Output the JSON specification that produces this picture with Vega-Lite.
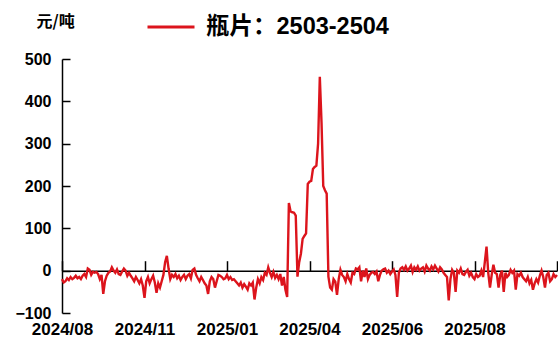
{
  "$schema": "https://vega.github.io/schema/vega-lite/v6.json",
  "autosize": "none",
  "width": 495,
  "height": 254,
  "padding": {"left": 62, "top": 59, "right": 1, "bottom": 39},
  "background": "white",
  "config": {"view": {"stroke": null}},
  "data": {"values": [
    {"i":0,"v":-20},{"i":1,"v":-28},{"i":2,"v":-25},{"i":3,"v":-18},{"i":4,"v":-22},{"i":5,"v":-15},{"i":6,"v":-20},{"i":7,"v":-17},{"i":8,"v":-12},{"i":9,"v":-18},
    {"i":10,"v":-15},{"i":11,"v":-20},{"i":12,"v":-12},{"i":13,"v":-8},{"i":14,"v":-15},{"i":15,"v":5},{"i":16,"v":2},{"i":17,"v":-10},{"i":18,"v":-3},{"i":19,"v":-5},
    {"i":20,"v":-3},{"i":21,"v":-8},{"i":22,"v":-20},{"i":23,"v":-10},{"i":24,"v":-55},{"i":25,"v":-25},{"i":26,"v":-12},{"i":27,"v":-5},{"i":28,"v":-2},{"i":29,"v":8},
    {"i":30,"v":0},{"i":31,"v":-5},{"i":32,"v":3},{"i":33,"v":-8},{"i":34,"v":-10},{"i":35,"v":-2},{"i":36,"v":5},{"i":37,"v":0},{"i":38,"v":-12},{"i":39,"v":-5},
    {"i":40,"v":-12},{"i":41,"v":-18},{"i":42,"v":-25},{"i":43,"v":-15},{"i":44,"v":-22},{"i":45,"v":-30},{"i":46,"v":-20},{"i":47,"v":-35},{"i":48,"v":-64},{"i":49,"v":-25},
    {"i":50,"v":-15},{"i":51,"v":-30},{"i":52,"v":-20},{"i":53,"v":-12},{"i":54,"v":-28},{"i":55,"v":-52},{"i":56,"v":-30},{"i":57,"v":-40},{"i":58,"v":-25},{"i":59,"v":-10},
    {"i":60,"v":20},{"i":61,"v":35},{"i":62,"v":5},{"i":63,"v":-20},{"i":64,"v":-10},{"i":65,"v":-15},{"i":66,"v":-8},{"i":67,"v":-18},{"i":68,"v":-12},{"i":69,"v":-22},
    {"i":70,"v":-15},{"i":71,"v":-10},{"i":72,"v":-20},{"i":73,"v":-12},{"i":74,"v":-8},{"i":75,"v":-18},{"i":76,"v":2},{"i":77,"v":5},{"i":78,"v":-10},{"i":79,"v":-18},
    {"i":80,"v":-25},{"i":81,"v":-15},{"i":82,"v":-22},{"i":83,"v":-30},{"i":84,"v":-35},{"i":85,"v":-55},{"i":86,"v":-25},{"i":87,"v":-15},{"i":88,"v":-20},{"i":89,"v":-40},
    {"i":90,"v":-25},{"i":91,"v":-10},{"i":92,"v":-12},{"i":93,"v":-15},{"i":94,"v":-20},{"i":95,"v":-18},{"i":96,"v":-10},{"i":97,"v":-20},{"i":98,"v":-15},{"i":99,"v":-22},
    {"i":100,"v":-20},{"i":101,"v":-25},{"i":102,"v":-30},{"i":103,"v":-35},{"i":104,"v":-28},{"i":105,"v":-40},{"i":106,"v":-32},{"i":107,"v":-38},{"i":108,"v":-45},{"i":109,"v":-30},
    {"i":110,"v":-35},{"i":111,"v":-28},{"i":112,"v":-68},{"i":113,"v":-40},{"i":114,"v":-20},{"i":115,"v":-30},{"i":116,"v":-15},{"i":117,"v":-22},{"i":118,"v":-5},{"i":119,"v":-10},
    {"i":120,"v":8},{"i":121,"v":-5},{"i":122,"v":-15},{"i":123,"v":-3},{"i":124,"v":-17},{"i":125,"v":-10},{"i":126,"v":-20},{"i":127,"v":-8},{"i":128,"v":-35},{"i":129,"v":-15},
    {"i":130,"v":-45},{"i":131,"v":-62},{"i":132,"v":160},{"i":133,"v":140},{"i":134,"v":138},{"i":135,"v":137},{"i":136,"v":130},{"i":137,"v":-14},{"i":138,"v":20},{"i":139,"v":40},
    {"i":140,"v":75},{"i":141,"v":82},{"i":142,"v":88},{"i":143,"v":205},{"i":144,"v":210},{"i":145,"v":212},{"i":146,"v":240},{"i":147,"v":245},{"i":148,"v":248},{"i":149,"v":300},
    {"i":150,"v":458},{"i":151,"v":350},{"i":152,"v":200},{"i":153,"v":190},{"i":154,"v":182},{"i":155,"v":-14},{"i":156,"v":-40},{"i":157,"v":-45},{"i":158,"v":-20},{"i":159,"v":-26},
    {"i":160,"v":-57},{"i":161,"v":-20},{"i":162,"v":2},{"i":163,"v":-10},{"i":164,"v":-15},{"i":165,"v":-25},{"i":166,"v":-8},{"i":167,"v":-20},{"i":168,"v":-28},{"i":169,"v":-5},
    {"i":170,"v":-8},{"i":171,"v":5},{"i":172,"v":3},{"i":173,"v":8},{"i":174,"v":-25},{"i":175,"v":0},{"i":176,"v":-15},{"i":177,"v":5},{"i":178,"v":-20},{"i":179,"v":-10},
    {"i":180,"v":-5},{"i":181,"v":-3},{"i":182,"v":-8},{"i":183,"v":-2},{"i":184,"v":-25},{"i":185,"v":-10},{"i":186,"v":0},{"i":187,"v":3},{"i":188,"v":5},{"i":189,"v":-5},
    {"i":190,"v":0},{"i":191,"v":-8},{"i":192,"v":-2},{"i":193,"v":3},{"i":194,"v":-10},{"i":195,"v":-62},{"i":196,"v":-5},{"i":197,"v":5},{"i":198,"v":8},{"i":199,"v":2},
    {"i":200,"v":10},{"i":201,"v":0},{"i":202,"v":5},{"i":203,"v":12},{"i":204,"v":-3},{"i":205,"v":8},{"i":206,"v":2},{"i":207,"v":10},{"i":208,"v":0},{"i":209,"v":5},
    {"i":210,"v":8},{"i":211,"v":-2},{"i":212,"v":12},{"i":213,"v":5},{"i":214,"v":0},{"i":215,"v":10},{"i":216,"v":3},{"i":217,"v":12},{"i":218,"v":5},{"i":219,"v":-2},
    {"i":220,"v":8},{"i":221,"v":3},{"i":222,"v":-5},{"i":223,"v":-10},{"i":224,"v":-15},{"i":225,"v":-70},{"i":226,"v":-20},{"i":227,"v":2},{"i":228,"v":-5},{"i":229,"v":-50},
    {"i":230,"v":0},{"i":231,"v":-5},{"i":232,"v":5},{"i":233,"v":-8},{"i":234,"v":-10},{"i":235,"v":-3},{"i":236,"v":2},{"i":237,"v":-12},{"i":238,"v":-5},{"i":239,"v":-15},
    {"i":240,"v":-20},{"i":241,"v":-8},{"i":242,"v":-15},{"i":243,"v":-12},{"i":244,"v":0},{"i":245,"v":-15},{"i":246,"v":20},{"i":247,"v":57},{"i":248,"v":-5},{"i":249,"v":-40},
    {"i":250,"v":-10},{"i":251,"v":14},{"i":252,"v":-5},{"i":253,"v":-8},{"i":254,"v":-40},{"i":255,"v":-10},{"i":256,"v":0},{"i":257,"v":-50},{"i":258,"v":-5},{"i":259,"v":-15},
    {"i":260,"v":-10},{"i":261,"v":2},{"i":262,"v":-5},{"i":263,"v":0},{"i":264,"v":-45},{"i":265,"v":-8},{"i":266,"v":-12},{"i":267,"v":-5},{"i":268,"v":-15},{"i":269,"v":-20},
    {"i":270,"v":-25},{"i":271,"v":-15},{"i":272,"v":-30},{"i":273,"v":-22},{"i":274,"v":-45},{"i":275,"v":-30},{"i":276,"v":-20},{"i":277,"v":-28},{"i":278,"v":-12},{"i":279,"v":0},
    {"i":280,"v":-15},{"i":281,"v":-40},{"i":282,"v":-10},{"i":283,"v":-5},{"i":284,"v":-25},{"i":285,"v":-20},{"i":286,"v":-8},{"i":287,"v":-15},{"i":288,"v":-10}
  ]},
  "mark": {"type": "line", "strokeWidth": 2.4, "interpolate": "linear"},
  "encoding": {
    "x": {
      "field": "i",
      "type": "quantitative",
      "scale": {"domain": [0, 288], "nice": false, "zero": false},
      "axis": {
        "title": null,
        "grid": false,
        "values": [0, 48, 96, 144, 192, 240, 288],
        "labelExpr": "datum.value==0?'2024/08':datum.value==48?'2024/11':datum.value==96?'2025/01':datum.value==144?'2025/04':datum.value==192?'2025/06':datum.value==240?'2025/08':''",
        "offset": -42.3,
        "domainColor": "#000000",
        "domainWidth": 1.5,
        "tickColor": "#000000",
        "tickWidth": 1.5,
        "tickSize": -10,
        "labelPadding": 61,
        "labelFont": "Liberation Sans",
        "labelFontSize": 17,
        "labelFontWeight": "bold",
        "labelColor": "#000000",
        "labelFlush": false,
        "labelOverlap": false,
        "labelBound": false
      }
    },
    "y": {
      "field": "v",
      "type": "quantitative",
      "scale": {"domain": [-100, 500], "nice": false, "zero": false},
      "axis": {
        "title": "元/吨",
        "titleAngle": 0,
        "titleAlign": "left",
        "titleBaseline": "middle",
        "titleX": -26,
        "titleY": -38,
        "titleFont": "Noto Sans CJK SC",
        "titleFontSize": 16,
        "titleFontWeight": "bold",
        "titleColor": "#000000",
        "grid": false,
        "values": [-100, 0, 100, 200, 300, 400, 500],
        "labelExpr": "datum.value<0?'−'+abs(datum.value):''+datum.value",
        "domainColor": "#000000",
        "domainWidth": 1.5,
        "tickColor": "#000000",
        "tickWidth": 1.5,
        "tickSize": -8,
        "labelPadding": 19,
        "labelFont": "Liberation Sans",
        "labelFontSize": 16,
        "labelFontWeight": "bold",
        "labelColor": "#000000"
      }
    },
    "color": {
      "datum": "瓶片：2503-2504",
      "scale": {"range": ["#dc141c"]},
      "legend": {
        "title": null,
        "orient": "none",
        "legendX": 84,
        "legendY": -57,
        "padding": 0,
        "symbolType": "stroke",
        "symbolSize": 2209,
        "symbolStrokeWidth": 3,
        "labelOffset": 10,
        "labelFont": "Liberation Sans, Noto Sans CJK SC",
        "labelFontSize": 23.5,
        "labelFontWeight": "bold",
        "labelColor": "#000000",
        "labelLimit": 400
      }
    }
  }
}
